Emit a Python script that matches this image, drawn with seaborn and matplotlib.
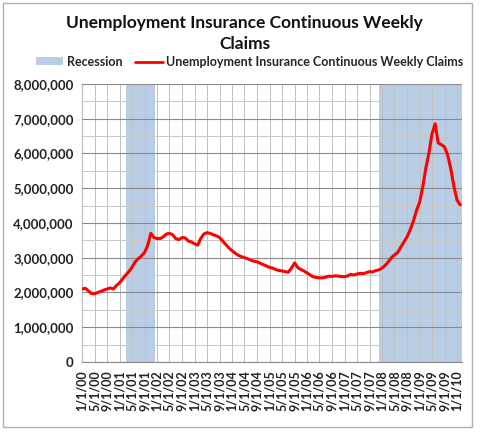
import pandas as pd
import matplotlib
matplotlib.use("Agg")
import matplotlib.pyplot as plt
import matplotlib.ticker as mticker
from matplotlib.patches import Patch, Rectangle
from matplotlib.lines import Line2D
import seaborn as sns

# monthly continuous claims (millions), Jan 2000 .. Feb 2010
start_month = "2000-01-01"
claims_m = [
    2.10, 2.12, 2.05, 1.97, 1.96, 2.00, 2.03, 2.07, 2.10, 2.13, 2.10, 2.20,
    2.28, 2.40, 2.50, 2.60, 2.72, 2.88, 2.97, 3.05, 3.15, 3.35, 3.70, 3.58,
    3.55, 3.55, 3.60, 3.68, 3.70, 3.66, 3.55, 3.52, 3.58, 3.57, 3.48, 3.45,
    3.40, 3.36, 3.55, 3.68, 3.72, 3.70, 3.66, 3.63, 3.58, 3.48, 3.38, 3.28,
    3.20, 3.13, 3.07, 3.03, 3.00, 2.97, 2.93, 2.90, 2.88, 2.84, 2.80, 2.76,
    2.72, 2.70, 2.66, 2.63, 2.62, 2.60, 2.58, 2.70, 2.85, 2.72, 2.66, 2.62,
    2.56, 2.50, 2.45, 2.43, 2.42, 2.42, 2.44, 2.47, 2.46, 2.48, 2.47, 2.46,
    2.45, 2.48, 2.52, 2.50, 2.53, 2.55, 2.54, 2.57, 2.60, 2.59, 2.63, 2.65,
    2.70, 2.78, 2.88, 3.00, 3.08, 3.15, 3.30, 3.45, 3.60, 3.80, 4.05, 4.35,
    4.60, 5.05, 5.55, 6.00, 6.55, 6.85, 6.30, 6.25, 6.18, 5.95, 5.55, 5.05,
    4.65, 4.52,
]
recession_start = ["2001-03-01", "2007-12-01"]
recession_end = ["2001-12-15", "2010-02-20"]
x_min, x_max = "2000-01-01", "2010-02-20"
tick_start, tick_end = "2000-01-01", "2010-01-01"

df = pd.DataFrame({
    "date": pd.date_range(start_month, periods=len(claims_m), freq="MS"),
    "claims": [v * 1e6 for v in claims_m],
})

sns.set_theme(style="white")
plt.rcParams["font.family"] = ["Lato", "DejaVu Sans"]

fig = plt.figure(figsize=(4.8, 4.32), dpi=100)
ax = fig.add_axes([0.171, 0.162, 0.792, 0.644])

# recession bands
for s, e in zip(recession_start, recession_end):
    ax.axvspan(pd.Timestamp(s), pd.Timestamp(e), color="#b9cde5", lw=0, zorder=0)

sns.lineplot(data=df, x="date", y="claims", color="#ff0000", linewidth=2.2, ax=ax, zorder=3)

ax.set_xlim(pd.Timestamp(x_min), pd.Timestamp(x_max))
ax.set_ylim(0, 8e6)

ticks = pd.date_range(tick_start, tick_end, freq="4MS")
ax.set_xticks(ticks)
ax.set_xticklabels([f"{d.month}/{d.day}/{d:%y}" for d in ticks], rotation=90,
                   fontsize=9, fontweight="bold", color="#222222")
ax.yaxis.set_major_locator(mticker.MultipleLocator(1e6))
ax.yaxis.set_minor_locator(mticker.MultipleLocator(5e5))
ax.yaxis.set_major_formatter(mticker.FuncFormatter(lambda v, p: f"{v:,.0f}"))
for lab in ax.get_yticklabels():
    lab.set_fontweight("bold")
    lab.set_fontsize(9.5)
    lab.set_color("#222222")

ax.grid(True, which="major", axis="y", color="#8a8a8a", lw=0.8, zorder=1)
ax.grid(True, which="minor", axis="y", color="#c8c8c8", lw=0.7, zorder=1)
ax.grid(True, which="major", axis="x", color="#c0c0c0", lw=0.7, zorder=1)
ax.set_axisbelow(False)
for line in ax.get_lines():
    line.set_zorder(3)

ax.set_xlabel("")
ax.set_ylabel("")
for side in ["top", "right"]:
    ax.spines[side].set_visible(False)
for side in ["left", "bottom"]:
    ax.spines[side].set_color("#8a8a8a")
    ax.spines[side].set_linewidth(0.8)
ax.tick_params(axis="both", which="major", direction="out", length=4, width=0.8,
               color="#8a8a8a", pad=2)
ax.tick_params(axis="y", which="minor", length=0)

fig.text(0.51, 0.965, "Unemployment Insurance Continuous Weekly\nClaims", ha="center",
         va="top", fontsize=12.5, fontweight="bold", linespacing=1.35, color="#111111")

handles = [Patch(facecolor="#b9cde5", edgecolor="none"),
           Line2D([0], [0], color="#ff0000", lw=2)]
fig.legend(handles, ["Recession", "Unemployment Insurance Continuous Weekly Claims"],
           loc="center", bbox_to_anchor=(0.52, 0.857), ncol=2, frameon=False,
           prop={"weight": "bold", "size": 9.0}, handlelength=2.2, handleheight=0.6,
           columnspacing=1.0, handletextpad=0.3)

fig.patches.append(Rectangle((0.006, 0.012), 0.978, 0.98, transform=fig.transFigure,
                             fill=False, edgecolor="#b0b0b0", lw=1.0))

fig.savefig("out.png", dpi=100)
